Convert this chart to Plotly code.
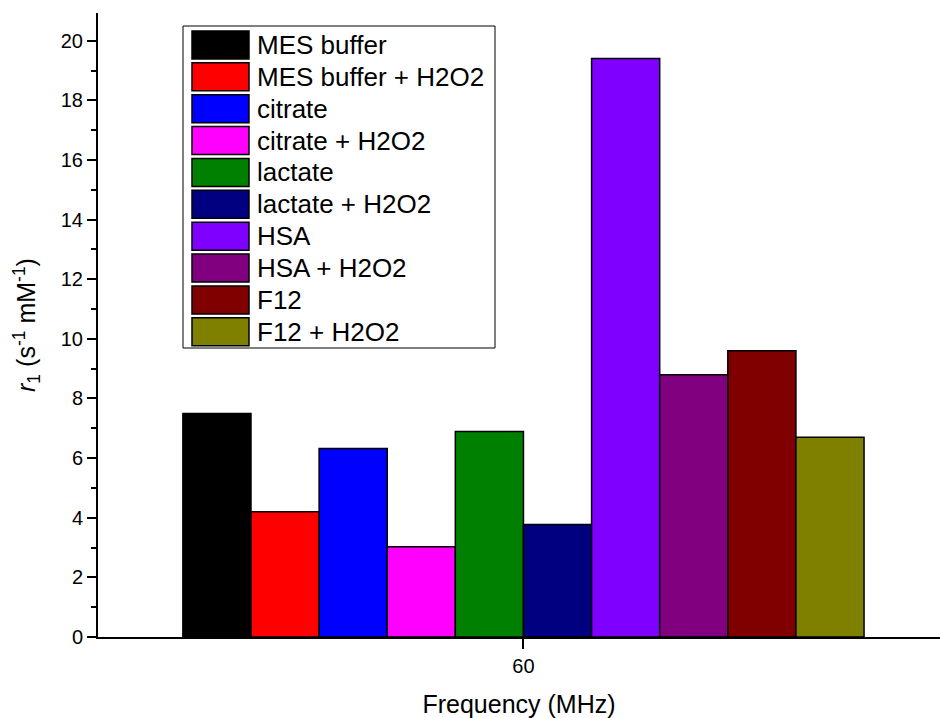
import plotly.graph_objects as go

categories = ["60"]
series_names = ["MES buffer", "MES buffer + H2O2", "citrate", "citrate + H2O2",
                "lactate", "lactate + H2O2", "HSA", "HSA + H2O2", "F12", "F12 + H2O2"]
series_values = [7.5, 4.2, 6.32, 3.03, 6.89, 3.77, 19.4, 8.8, 9.6, 6.7]
series_colors = ["#000000", "#FF0000", "#0000FF", "#FF00FF", "#008000",
                 "#000080", "#8000FF", "#800080", "#800000", "#808000"]

FONT = "Liberation Sans, Arial, sans-serif"

fig = go.Figure()
for name, val, col in zip(series_names, series_values, series_colors):
    fig.add_trace(go.Bar(
        x=categories, y=[val], name=name,
        marker=dict(color=col, line=dict(color="#000000", width=1.5)),
        showlegend=False,
    ))

# plot area in pixels: x 98..940, y 13..637
L, R, T, B = 98, 940, 13, 637
W, H = R - L, B - T

def px_x(p):
    return (p - L) / W

def px_y(p):
    return (B - p) / H

shapes = []
annotations = []
# legend box
shapes.append(dict(type="rect", xref="paper", yref="paper",
                   x0=px_x(183), x1=px_x(495), y0=px_y(348), y1=px_y(26),
                   line=dict(color="#000000", width=1), fillcolor="white", layer="above"))
pitch = 31.86
for i, (name, col) in enumerate(zip(series_names, series_colors)):
    top = 31 + pitch * i
    shapes.append(dict(type="rect", xref="paper", yref="paper",
                       x0=px_x(192), x1=px_x(249), y0=px_y(top + 28), y1=px_y(top),
                       line=dict(color="#000000", width=1.5), fillcolor=col, layer="above"))
    annotations.append(dict(xref="paper", yref="paper", x=px_x(255), y=px_y(top + 14),
                            text=name, showarrow=False, xanchor="left", yanchor="middle",
                            font=dict(family=FONT, size=26, color="#000000")))

fig.update_layout(
    width=940, height=718,
    margin=dict(l=L, r=940 - R, t=T, b=718 - B),
    paper_bgcolor="white", plot_bgcolor="white",
    barmode="group", bargap=0.191, bargroupgap=0,
    font=dict(family=FONT, color="#000000"),
    shapes=shapes, annotations=annotations,
    xaxis=dict(
        type="category", range=[-0.5053, 0.4947],
        showline=True, linecolor="#000000", linewidth=2,
        ticks="outside", ticklen=10, tickwidth=2, tickcolor="#000000",
        tickfont=dict(family=FONT, size=20),
        title=dict(text="Frequency (MHz)", font=dict(family=FONT, size=25), standoff=20),
        showgrid=False, zeroline=False,
    ),
    yaxis=dict(
        range=[0, 20.93], dtick=2, tick0=0,
        showline=True, linecolor="#000000", linewidth=2,
        ticks="outside", ticklen=9, tickwidth=2, tickcolor="#000000",
        tickfont=dict(family=FONT, size=20),
        minor=dict(dtick=1, ticks="outside", ticklen=5, tickwidth=2, tickcolor="#000000", showgrid=False),
        title=dict(text="<i>r</i><sub>1</sub> (s<sup>-1</sup> mM<sup>-1</sup>)",
                   font=dict(family=FONT, size=25), standoff=18),
        showgrid=False, zeroline=False,
    ),
)

fig.write_html("out.html", config={"displayModeBar": False},
               post_script="document.body.style.margin='0';document.body.style.overflow='hidden';")
